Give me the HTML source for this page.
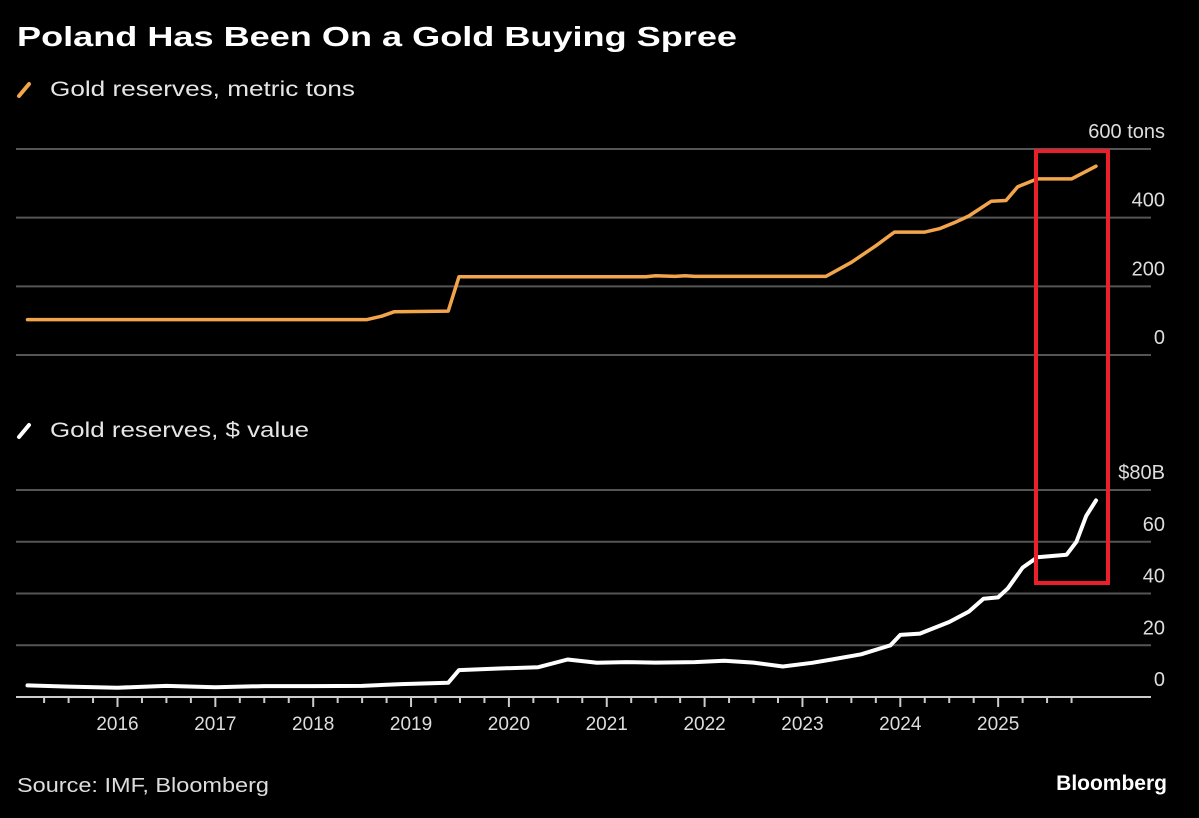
<!DOCTYPE html>
<html><head><meta charset="utf-8"><style>
html,body{margin:0;padding:0;background:#000;}
svg{display:block;font-family:"Liberation Sans",sans-serif;}
</style></head><body>
<svg id="chart" width="1199" height="818" viewBox="0 0 1199 818">
<rect width="1199" height="818" fill="#000"/>
<text x="17" y="46" fill="#fff" font-size="28" font-weight="bold" textLength="720" lengthAdjust="spacingAndGlyphs">Poland Has Been On a Gold Buying Spree</text>
<line x1="19" y1="96" x2="29" y2="84" stroke="#f2a54a" stroke-width="4" stroke-linecap="round"/>
<text x="50" y="96" fill="#e6e6e6" font-size="21" textLength="305" lengthAdjust="spacingAndGlyphs">Gold reserves, metric tons</text>
<line x1="19" y1="437" x2="29" y2="425" stroke="#fff" stroke-width="4" stroke-linecap="round"/>
<text x="50" y="437" fill="#e6e6e6" font-size="21" textLength="259" lengthAdjust="spacingAndGlyphs">Gold reserves, $ value</text>
<g id="topPanel"></g>
<g id="botPanel"></g>
<text x="17" y="792" fill="#ddd" font-size="20" textLength="252" lengthAdjust="spacingAndGlyphs">Source: IMF, Bloomberg</text>
<text x="1167" y="790" fill="#fff" font-size="21" font-weight="bold" text-anchor="end">Bloomberg</text>
<rect x="1036" y="151" width="72" height="432" fill="none" stroke="#e8202a" stroke-width="4"/>
</svg>
<script>
const years = [2016,2017,2018,2019,2020,2021,2022,2023,2024,2025];
const tonTicks = [0,200,400,600];
const valueTicks = [0,20,40,60,80];
const tonDates  = [2015.08,2018.55,2018.7,2018.83,2019.38,2019.49,2021.4,2021.5,2021.7,2021.8,2021.9,2022.0,2023.24,2023.5,2023.75,2023.94,2024.25,2024.4,2024.55,2024.7,2024.93,2025.08,2025.2,2025.4,2025.75,2025.9,2026.0];
const tonValues = [103,103,113,126,128,228,228,231,229,231,229,229,229,270,318,358,358,368,385,405,448,450,490,513,513,535,550];
const valDates  = [2015.08,2015.5,2016.0,2016.5,2017.0,2017.5,2018.0,2018.5,2018.9,2019.38,2019.49,2019.9,2020.3,2020.6,2020.9,2021.2,2021.5,2021.9,2022.2,2022.5,2022.8,2023.1,2023.3,2023.6,2023.9,2024.0,2024.2,2024.5,2024.7,2024.85,2025.0,2025.1,2025.25,2025.4,2025.7,2025.8,2025.9,2026.0];
const valValues = [4.5,4.0,3.6,4.3,3.8,4.2,4.2,4.3,5.0,5.5,10.4,11,11.5,14.5,13.2,13.5,13.3,13.5,14,13.3,11.8,13.2,14.5,16.5,20,24,24.5,29,33,38,38.5,42,50,54,55,60,70,76];

const NS='http://www.w3.org/2000/svg';
const xPos = t => 117.5 + (t-2016)*97.85;
const yTon = v => 355 - v*0.3433;
const yVal = v => 697 - v*2.5875;
function mk(tag, attrs, parent){const e=document.createElementNS(NS,tag);for(const k in attrs)e.setAttribute(k,attrs[k]);parent.appendChild(e);return e;}
const topG=document.getElementById('topPanel'), botG=document.getElementById('botPanel');

tonTicks.forEach(v=>{
  const g=mk('line',{x1:16,x2:1151,y1:yTon(v),y2:yTon(v),stroke:'#555','stroke-width':2},topG);
  
  
  const t=mk('text',{x:1165,y:yTon(v)-11,fill:'#ddd','font-size':20,'text-anchor':'end'},topG);
  t.textContent = v===600 ? '600 tons' : String(v);
  
  
});
valueTicks.forEach(v=>{
  const g=mk('line',{x1:16,x2:1151,y1:yVal(v),y2:yVal(v),stroke:v===0?'#ccc':'#555','stroke-width':2},botG);
  
  
  const t=mk('text',{x:1165,y:yVal(v)-11,fill:'#ddd','font-size':20,'text-anchor':'end'},botG);
  t.textContent = v===80 ? '$80B' : String(v);
  
  
});
for(let q=2015.25;q<=2025.76;q+=0.25){
  const major=Math.abs(q-Math.round(q))<0.01;
  const tk=mk('line',{x1:xPos(q),x2:xPos(q),y1:697,y2:major?707:703,stroke:'#ccc','stroke-width':2},botG);
  
  
}
years.forEach(yr=>{
  const t=mk('text',{x:xPos(yr),y:730,fill:'#ddd','font-size':19,'text-anchor':'middle'},botG);
  t.textContent=String(yr);
  
  
});
const tp=mk('polyline',{points:tonDates.map((d,i)=>xPos(d).toFixed(1)+','+yTon(tonValues[i]).toFixed(1)).join(' '),fill:'none',stroke:'#f2a54a','stroke-width':3.5,'stroke-linejoin':'round','stroke-linecap':'round'},topG);


const vp=mk('polyline',{points:valDates.map((d,i)=>xPos(d).toFixed(1)+','+yVal(valValues[i]).toFixed(1)).join(' '),fill:'none',stroke:'#fff','stroke-width':4,'stroke-linejoin':'round','stroke-linecap':'round'},botG);


</script>
</body></html>
